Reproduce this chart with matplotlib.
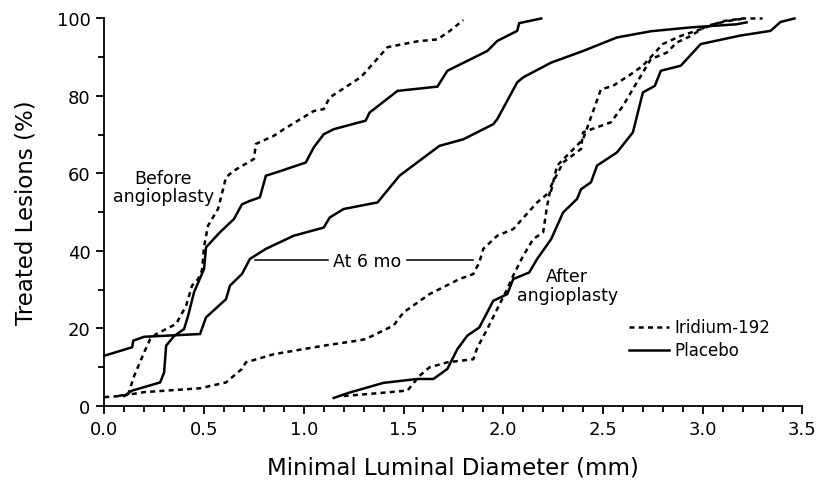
import matplotlib
matplotlib.use("Agg")
import matplotlib.pyplot as plt
from matplotlib.ticker import MultipleLocator

plt.rcParams['font.family'] = ['DejaVu Sans']

# Before angioplasty
before_ir_x = [0.07, 0.12, 0.15, 0.20, 0.23, 0.26, 0.31, 0.36, 0.41, 0.44, 0.47, 0.49, 0.50, 0.52, 0.57,
               0.60, 0.61, 0.65, 0.75, 0.76, 0.85, 0.90, 1.05, 1.10, 1.13, 1.27, 1.30, 1.42, 1.57, 1.67,
               1.73, 1.80]
before_ir_y = [2.5, 3, 7.7, 13.8, 17.2, 18.5, 19.8, 21.1, 25.8, 31, 32.7, 35, 41, 46.5, 50.8,
               56.8, 59, 60.7, 63.7, 67.6, 69.7, 71.4, 76.1, 76.6, 79.6, 84.3, 85.6, 92.6, 94.1, 94.6,
               96.7, 99.6]
before_pl_x = [0.10, 0.14, 0.28, 0.30, 0.31, 0.35, 0.40, 0.42, 0.45, 0.50, 0.51, 0.58, 0.65, 0.69, 0.73,
               0.78, 0.81, 0.86, 1.01, 1.05, 1.10, 1.15, 1.28, 1.31, 1.33, 1.47, 1.67, 1.72, 1.92, 1.97,
               2.07, 2.08, 2.19]
before_pl_y = [2.5, 3.9, 6, 8.6, 15.5, 18, 19.8, 23.2, 29.3, 35.3, 40.9, 44.8, 48.2, 52, 52.9,
               53.8, 59.4, 60.2, 62.8, 66.7, 70.1, 71.4, 73.2, 73.6, 75.7, 81.3, 82.4, 86.5, 91.6, 94.2,
               96.8, 98.8, 100]

# At 6 months
mo6_ir_x = [0.0, 0.08, 0.20, 0.48, 0.61, 0.69, 0.71, 0.85, 1.10, 1.27, 1.31, 1.45, 1.50, 1.63, 1.78,
            1.85, 1.88, 1.90, 1.97, 2.05, 2.17, 2.24, 2.27, 2.40, 2.49, 2.55, 2.64, 2.70, 2.80, 2.89,
            2.99, 3.10, 3.20, 3.30]
mo6_ir_y = [2.2, 2.5, 3.5, 4.5, 6, 9.5, 11.2, 13.3, 15.5, 16.8, 17.2, 20.7, 24.1, 28.8, 32.7,
            34, 37, 40.5, 43.9, 45.6, 52.5, 55.5, 62, 68.8, 81.7, 82.6, 85.6, 87.8, 93.4, 95.5,
            97.2, 99.3, 100, 100]
mo6_pl_x = [0.0, 0.14, 0.145, 0.20, 0.48, 0.51, 0.61, 0.63, 0.69, 0.73, 0.81, 0.95, 1.10, 1.13, 1.20,
            1.28, 1.37, 1.48, 1.68, 1.80, 1.95, 1.97, 2.07, 2.10, 2.24, 2.40, 2.57, 2.74, 2.94, 3.17,
            3.22]
mo6_pl_y = [12.9, 15.1, 16.8, 17.8, 18.5, 22.8, 27.5, 31, 34, 37.9, 40.5, 43.9, 46, 48.6, 50.8,
            51.6, 52.5, 59.4, 67.1, 68.8, 72.7, 74, 83.5, 84.8, 88.6, 91.6, 95.1, 96.7, 97.7, 98.5,
            99]

# After angioplasty
after_ir_x = [1.20, 1.32, 1.52, 1.58, 1.63, 1.72, 1.85, 1.87, 1.92, 1.97, 2.02, 2.05, 2.10, 2.15, 2.20,
              2.22, 2.24, 2.30, 2.39, 2.40, 2.47, 2.54, 2.60, 2.65, 2.69, 2.74, 2.82, 2.87, 2.94, 3.02,
              3.12, 3.21]
after_ir_y = [2.5, 3, 3.9, 7.7, 9.9, 11.2, 12, 15, 19.8, 25, 30.1, 33.6, 38.7, 43, 44.8,
              51.6, 56.8, 62.8, 66.3, 70.6, 71.9, 73.2, 77.4, 81.8, 85.2, 89.5, 91.2, 93.8, 95.5, 98.1,
              99.3, 100]
after_pl_x = [1.15, 1.23, 1.40, 1.57, 1.65, 1.72, 1.77, 1.82, 1.88, 1.95, 2.02, 2.05, 2.13, 2.17, 2.24,
              2.30, 2.37, 2.39, 2.44, 2.47, 2.57, 2.65, 2.70, 2.76, 2.79, 2.89, 2.99, 3.19, 3.34, 3.39,
              3.46]
after_pl_y = [2, 3.4, 5.9, 6.9, 6.9, 9.5, 14.6, 18.1, 20.2, 27.1, 28.8, 32.7, 34.4, 37.9, 43,
              49.9, 53.4, 55.9, 57.7, 62, 65.4, 70.6, 80.9, 82.6, 86.5, 87.8, 93.4, 95.6, 96.8, 99.1,
              100]

dash = (0, (2.0, 1.7))
lw = 1.8

fig = plt.figure(figsize=(8.18, 4.81), dpi=100)
ax = fig.add_axes([0.1275, 0.1545, 0.8535, 0.805])

for xs, ys in [(before_ir_x, before_ir_y), (mo6_ir_x, mo6_ir_y), (after_ir_x, after_ir_y)]:
    ax.plot(xs, ys, color='black', lw=lw, linestyle=dash, clip_on=False)
for xs, ys in [(before_pl_x, before_pl_y), (mo6_pl_x, mo6_pl_y), (after_pl_x, after_pl_y)]:
    ax.plot(xs, ys, color='black', lw=lw, linestyle='-', clip_on=False)

# Labels on the curves
ax.text(0.295, 56.5, "Before\nangioplasty", ha='center', va='center', fontsize=12.5, linespacing=1.05)
ax.text(2.32, 31, "After\nangioplasty", ha='center', va='center', fontsize=12.5, linespacing=1.05)
ax.text(1.32, 37.3, "At 6 mo", ha='center', va='center', fontsize=12.5)
ax.plot([0.757, 1.12], [37.5, 37.5], color='black', lw=1.1)
ax.plot([1.52, 1.85], [37.5, 37.5], color='black', lw=1.1)

# Legend
ax.plot([2.63, 2.83], [20.3, 20.3], color='black', lw=lw, linestyle=dash)
ax.plot([2.63, 2.83], [14.3, 14.3], color='black', lw=lw, linestyle='-')
ax.text(2.86, 20.3, "Iridium-192", ha='left', va='center', fontsize=12)
ax.text(2.86, 14.3, "Placebo", ha='left', va='center', fontsize=12)

ax.set_xlim(0, 3.5)
ax.set_ylim(0, 100)
ax.xaxis.set_major_locator(MultipleLocator(0.5))
ax.xaxis.set_minor_locator(MultipleLocator(0.1))
ax.yaxis.set_major_locator(MultipleLocator(20))
ax.yaxis.set_minor_locator(MultipleLocator(10))
ax.xaxis.set_major_formatter(plt.FuncFormatter(lambda v, p: f"{v:.1f}"))

for s in ['top', 'right']:
    ax.spines[s].set_visible(False)
for s in ['left', 'bottom']:
    ax.spines[s].set_linewidth(1.3)
ax.tick_params(which='major', direction='out', length=6, width=1.3, labelsize=13, pad=4)
ax.tick_params(which='minor', direction='out', length=4, width=1.3)

ax.set_xlabel("Minimal Luminal Diameter (mm)", fontsize=16.5, labelpad=13)
ax.set_ylabel("Treated Lesions (%)", fontsize=16.5, labelpad=14)

plt.savefig("out.png", dpi=100, facecolor='white')
plt.close()
